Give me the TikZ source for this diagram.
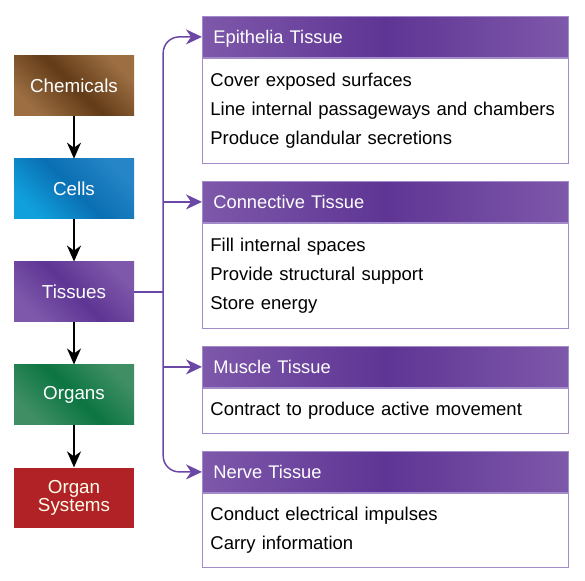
\documentclass[tikz,border=0pt]{standalone}
\usepackage{fontspec}
\setmainfont{Liberation Sans}
\usepackage{xcolor}
\usepackage{tikz}
\usetikzlibrary{arrows.meta,positioning}

\definecolor{chemlight}{HTML}{9C6E42}
\definecolor{chemdark}{HTML}{623B17}
\definecolor{celllight}{HTML}{10A0DC}
\definecolor{celldark}{HTML}{0A6FB3}
\definecolor{cellright}{HTML}{2585C6}
\definecolor{purplight}{HTML}{7E58AA}
\definecolor{purpdark}{HTML}{5E3594}
\definecolor{orglight}{HTML}{3F8E64}
\definecolor{orgdark}{HTML}{0B7541}
\definecolor{sysred}{HTML}{B02225}
\definecolor{linkpurp}{HTML}{6C48A6}
\definecolor{boxedge}{HTML}{A38BC9}

\begin{document}
\begin{tikzpicture}[
  x=1pt,y=1pt,
  stage/.style={minimum width=120pt,minimum height=60pt,inner sep=0pt,text=white,
    align=center,font=\fontsize{18.8}{18}\selectfont},
  grad/.style n args={3}{left color=#1,right color=#3,middle color=#2,shading angle=135},
  hdr/.style={draw=boxedge,line width=0.8pt,left color=purplight,right color=purplight,
    middle color=purpdark,text=white,text width=344pt,inner xsep=11pt,minimum height=41pt,
    text depth=1pt,align=left,anchor=north west,font=\fontsize{18.3}{18}\selectfont},
  body/.style={draw=boxedge,line width=0.8pt,fill=white,text width=350pt,inner xsep=8pt,
    inner ysep=0pt,align=left,below=0pt of #1,font=\fontsize{18.5}{29}\selectfont},
  arr/.style={-{Stealth[length=16pt,width=14pt,inset=5pt]},line width=1.8pt,black},
  parr/.style={-{Stealth[length=16pt,width=15pt,inset=5pt]},line width=1.5pt,linkpurp},
  pline/.style={line width=1.5pt,linkpurp},
  node distance=42.5pt
]
  \useasboundingbox (0,0) rectangle (585,-580);

  % levels of organisation
  \node[stage,grad={chemlight}{chemdark}{chemlight}] (chem) at (74,-86) {Chemicals};
  \node[stage,below=of chem,grad={celllight}{celldark}{cellright}] (cell) {Cells};
  \node[stage,below=of cell,grad={purplight}{purpdark}{purplight}] (tis) {Tissues};
  \node[stage,below=of tis,grad={orglight}{orgdark}{orglight}] (org) {Organs};
  \node[stage,below=of org,fill=sysred,text=white!92!yellow] (sys) {Organ\\Systems};

  \draw[arr] (chem) -- (cell);
  \draw[arr] (cell) -- (tis);
  \draw[arr] (tis) -- (org);
  \draw[arr] (org) -- (sys);

  % tissue types
  \node[hdr] (epi) at (202,-16) {Epithelia Tissue};
  \node[body=epi,minimum height=105pt] (epib)
    {Cover exposed surfaces\\Line internal passageways and chambers\\Produce glandular secretions};

  \node[hdr] (con) at (202,-181) {Connective Tissue};
  \node[body=con,minimum height=105pt] (conb)
    {Fill internal spaces\\Provide structural support\\Store energy};

  \node[hdr] (mus) at (202,-346) {Muscle Tissue};
  \node[body=mus,minimum height=45pt] (musb)
    {Contract to produce active movement};

  \node[hdr] (ner) at (202,-451) {Nerve Tissue};
  \node[body=ner,minimum height=74pt] (nerb)
    {Conduct electrical impulses\\Carry information};

  \coordinate (trunk) at ([xshift=29pt]tis.east);
  \draw[pline] (tis.east) -- (trunk);
  \draw[parr,rounded corners=16pt] (trunk) |- (epi.west);
  \draw[parr,rounded corners=16pt] (trunk) |- (ner.west);
  \draw[parr] (trunk |- con.west) -- (con.west);
  \draw[parr] (trunk |- mus.west) -- (mus.west);
\end{tikzpicture}
\end{document}
